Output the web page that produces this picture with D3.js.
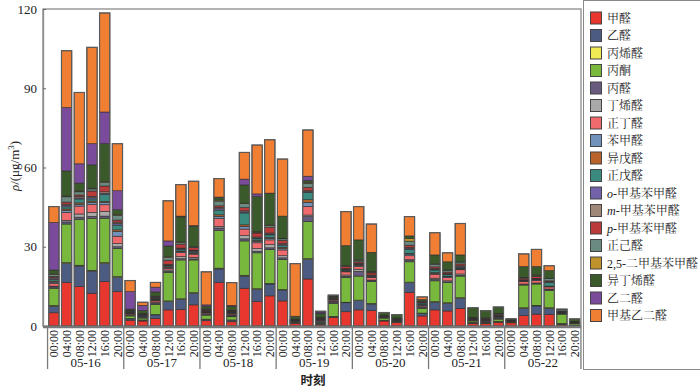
<!DOCTYPE html>
<html><head><meta charset="utf-8">
<script src="https://cdn.jsdelivr.net/npm/d3@7"></script>
<style>body{margin:0;background:#fff}svg{display:block}</style>
</head><body>
<svg id="c" width="700" height="390"></svg>
<script>
// ---- data ----
const dates = ["05-16","05-17","05-18","05-19","05-20","05-21","05-22"];
const times = ["00:00","04:00","08:00","12:00","16:00","20:00"];
const yTicks = [0, 30, 60, 90, 120];
const seriesNames = ["甲醛","乙醛","丙烯醛","丙酮","丙醛","丁烯醛","正丁醛","苯甲醛","异戊醛","正戊醛",
  "o-甲基苯甲醛","m-甲基苯甲醛","p-甲基苯甲醛","正己醛","2,5-二甲基苯甲醛","异丁烯醛","乙二醛","甲基乙二醛"];
const seriesColors = ["#e8372e","#4c5b82","#f2ea55","#78b83c","#675a7e","#a9a9a9","#ee6a6c","#7192bb","#b9632b","#3b8a7f",
  "#7361a9","#a08878","#bb3a3a","#6b8b82","#c0922c","#3b5a2c","#7b4b9b","#f07f34"];

const formaldehyde = [5,16.5,14.9,12.4,16.8,13, 2.2,1.9,2.9,6.1,6.3,8, 2,16.4,1.6,14.3,9.2,11.4, 9.5,1,17.8,0.6,3.3,5.4, 6.1,5.8,1.9,1.4,12.7,3.8, 6.1,5.7,6.7,1.0,1.0,1.4, 1.2,3.9,4.5,4.4,0.6,0.2];
const acetaldehyde = [2.5,7.2,7.8,8.4,6.9,5.4, 0.5,0.3,1.3,3.2,3.8,4.4, 0.5,5.2,0.6,4.6,4.7,4.5, 4.1,0.3,7.4,0.3,0.2,3.4, 3.5,2.5,0.2,0.2,3.7,1.0, 2.9,2.9,3.8,0.2,0.1,0.3, 0.1,2.8,3.1,2.3,0.2,0.1];
const acrolein = [0.3,0.3,0.3,0.3,0.3,0.3, 0.1,0.1,0.1,0.2,0.2,0.2, 0.1,0.3,0.1,0.3,0.2,0.2, 0.2,0.1,0.3,0.1,0.1,0.2, 0.2,0.2,0.1,0.1,0.2,0.1, 0.2,0.2,0.2,0.1,0.1,0.1, 0.1,0.2,0.2,0.2,0.1,0.1];
const acetone = [6.5,14.6,17.4,19.6,16.8,10.7, 1.0,0.7,3.9,10.8,14.7,12.4, 1.5,14.2,1.2,13.0,13.6,12.9, 11.4,0.2,14.0,0.4,5.0,9.4, 9.1,8.3,0.8,0.2,7.7,1.8, 7.9,7.6,8.2,0.6,0.3,0.8, 0.2,8.6,8.1,6.5,3.6,0.5];
const propanal = [0.5,0.8,0.8,0.8,0.8,0.6, 0.2,0.2,0.4,0.4,0.5,0.4, 0.3,1.0,0.3,0.8,0.6,0.6, 0.6,0.1,1.9,0.5,0.5,0.4, 1.8,0.3,0.1,0.1,0.5,0.4, 0.5,0.3,0.3,0.1,0.2,0.2, 0.1,0.2,0.2,0.3,0.1,0.1];
const crotonaldehyde = [0.3,0.6,1.2,1.5,1.8,1.2, 0.3,0.2,0.3,0.5,0.8,0.6, 0.3,0.6,0.3,1.2,1.0,1.2, 0.8,0.1,0.6,0.2,0.2,0.5, 0.8,0.3,0.1,0.1,0.3,0.2, 0.5,0.4,0.5,0.1,0.2,0.2, 0.1,0.2,0.2,0.3,0.1,0.1];
const butanal = [1,3,3,3,2.5,2.8, 0.3,0.2,0.6,0.6,1.5,1.2, 0.3,3.0,0.4,2.5,2.2,1.8, 2.2,0.1,3.3,0.2,0.5,1.2, 1.0,0.9,0.1,0.1,1.5,0.5, 1.5,1.2,1.6,0.2,0.2,0.3, 0.1,0.9,0.9,0.8,0.1,0.1];
const benzaldehyde = [0.5,0.8,0.7,0.8,0.8,1.8, 0.2,0.2,0.2,0.3,0.3,0.3, 0.2,0.8,0.2,1.0,0.5,0.5, 0.5,0.1,1.5,0.1,0.2,0.3, 0.4,0.2,0.1,0.1,0.6,0.2, 0.3,0.3,0.3,0.1,0.1,0.2, 0.05,0.1,0.2,0.2,0.1,0.05];
const isovaleraldehyde = [0.4,0.5,0.5,0.5,0.5,0.6, 0.1,0.1,0.2,0.3,0.3,0.3, 0.1,0.6,0.2,0.6,0.4,0.4, 0.5,0.1,1.0,0.1,0.1,0.2, 0.2,0.2,0.1,0.1,0.3,0.1, 0.3,0.2,0.2,0.1,0.1,0.1, 0.05,0.1,0.1,0.1,0.1,0.05];
const pentanal = [0.6,0.8,1.5,0.8,2.5,1.8, 0.2,0.2,0.3,0.4,0.5,0.5, 0.3,1.8,0.3,4.5,0.6,1.0, 0.6,0.1,2.8,0.1,0.2,0.3, 0.3,0.2,0.1,0.1,1.5,0.6, 1.0,0.6,0.4,0.1,0.1,0.2, 0.05,0.3,0.3,1.3,0.3,0.05];
const oTolualdehyde = [0.3,0.5,0.4,0.5,0.5,0.6, 0.1,0.1,0.2,0.2,0.3,0.2, 0.1,0.5,0.1,0.4,0.3,0.3, 0.4,0.1,0.3,0.1,0.1,0.2, 0.2,0.2,0.1,0.1,0.4,0.1, 0.3,0.2,0.3,0.1,0.1,0.1, 0.05,0.1,0.1,0.2,0.1,0.05];
const mTolualdehyde = [0.4,0.5,0.5,0.5,0.6,0.5, 0.1,0.1,0.2,0.3,0.3,0.2, 0.1,0.5,0.1,0.4,0.4,0.4, 0.4,0.1,0.3,0.1,0.1,0.2, 0.2,0.2,0.1,0.1,0.4,0.1, 0.3,0.2,0.3,0.1,0.1,0.1, 0.05,0.1,0.1,0.2,0.1,0.05];
const pTolualdehyde = [0.5,0.8,0.6,2.0,2.2,0.8, 0.2,0.2,0.3,1.6,1.5,1.0, 0.3,0.6,0.3,1.2,1.5,2.2, 1.2,0.1,1.3,0.2,0.3,0.8, 0.5,0.8,0.1,0.1,0.8,0.3, 0.6,0.6,0.7,0.2,0.2,0.3, 0.1,0.6,0.8,0.3,0.1,0.1];
const hexanal = [0.7,2,1.2,0.8,1.3,1.8, 0.2,0.2,0.3,1.0,0.6,0.2, 0.3,1.8,0.2,1.5,0.3,0.6, 0.6,0.1,1.5,0.2,0.2,0.2, 0.6,0.3,0.1,0.1,1.5,0.2, 1.0,0.7,0.7,0.1,0.2,0.3, 0.05,0.2,0.4,0.9,0.5,0.1];
const dimethylbenzaldehyde = [0.2,0.3,0.3,0.3,0.3,0.4, 0.1,0.1,0.1,0.3,0.2,0.1, 0.1,0.4,0.1,0.2,0.2,0.2, 0.2,0.1,0.3,0.1,0.1,0.1, 0.1,0.2,0.1,0.1,1.0,0.1, 0.1,0.1,0.1,0.1,0.1,0.1, 0.05,0.1,0.1,0.1,0.1,0.05];
const methacrolein = [1.5,9.5,3,8.8,14.4,1.7, 0.6,1.0,1.6,4.1,9.5,7.8, 1,0.9,1.5,6.9,13.3,12, 8.4,1,0.8,1.5,0.6,7.6, 7.6,7.3,1.0,1.3,1.0,0.5, 3.4,3.1,2.6,3.7,2.7,2.5, 0.4,4.1,3.2,2.9,0.2,1.0];
const glyoxal = [18,24,7.3,8,12,7.2, 6.6,2.0,1.8,1.9,0.3,0.2, 0.5,0.2,0.3,2.2,1,0.1, 0,0,1.6,0.5,0,0, 0,0,0,0,0,0, 0,0,0,0,0,0, 0,0,0,0,0,0];
const methylglyoxal = [6,21.5,27,36.5,37.5,17.8, 4.2,1.2,1.8,15.2,11.9,16.8, 12.5,7,8.6,10.1,18.5,20.2, 21.6,19.9,17.5,0.3,0,12.9, 12.6,10.7,0,0,7.3,1.0, 8.4,3.4,11.9,0,0,0, 0,4.8,6.5,1.8,0,0];

const seriesValues = [formaldehyde, acetaldehyde, acrolein, acetone, propanal, crotonaldehyde, butanal, benzaldehyde,
  isovaleraldehyde, pentanal, oTolualdehyde, mTolualdehyde, pTolualdehyde, hexanal, dimethylbenzaldehyde,
  methacrolein, glyoxal, methylglyoxal];

// ---- build table ----
const rows = [];
dates.forEach((d, di) => times.forEach((t, ti) => {
  const i = di * times.length + ti;
  const r = {id: d + " " + t, date: d, time: t};
  seriesNames.forEach((s, si) => r[s] = seriesValues[si][i]);
  rows.push(r);
}));

const FONT = "'Liberation Serif','Times New Roman','Noto Serif CJK SC','Noto Sans CJK SC',serif";
const svg = d3.select("#c");
const L = 43, R = 581, T = 9, B = 326;

const x = d3.scaleBand().domain(rows.map(r => r.id)).range([47.5, 581]).paddingInner(0.19).paddingOuter(0.1);
const y = d3.scaleLinear().domain([0, 120]).range([B, T]);
const color = d3.scaleOrdinal().domain(seriesNames).range(seriesColors);

const stack = d3.stack().keys(seriesNames)(rows);

// frame
svg.append("rect").attr("x", L).attr("y", T).attr("width", R - L).attr("height", B - T)
  .attr("fill", "none").attr("stroke", "#8a8a8a").attr("stroke-width", 1.3);

// bars
const layers = svg.append("g").selectAll("g").data(stack).join("g").attr("fill", d => color(d.key));
layers.selectAll("rect").data(d => d).join("rect")
  .attr("x", d => x(d.data.id))
  .attr("width", x.bandwidth())
  .attr("y", d => y(d[1]))
  .attr("height", d => Math.max(0, y(d[0]) - y(d[1])))
  .attr("stroke", "#2b2b2b").attr("stroke-width", 0.6);

// bar outlines
svg.append("g").selectAll("rect").data(rows).join("rect")
  .attr("x", d => x(d.id)).attr("width", x.bandwidth())
  .attr("y", d => y(d3.sum(seriesNames, s => d[s])))
  .attr("height", d => y(0) - y(d3.sum(seriesNames, s => d[s])))
  .attr("fill", "none").attr("stroke", "#5a5a5a").attr("stroke-width", 1.2);

// y axis
const yAxis = svg.append("g").attr("transform", `translate(${L},0)`)
  .call(d3.axisLeft(y).tickValues(yTicks).tickSizeInner(-3).tickSizeOuter(0).tickPadding(6));
yAxis.select(".domain").attr("stroke", "#8a8a8a").attr("stroke-width", 1.3);
yAxis.selectAll(".tick line").attr("stroke", "#666");
yAxis.selectAll("text").attr("font-family", FONT).attr("font-size", 13).attr("fill", "#222");

// x axis line
svg.append("line").attr("x1", L).attr("x2", R).attr("y1", B + 1).attr("y2", B + 1)
  .attr("stroke", "#777").attr("stroke-width", 2.5);

// x tick labels (rotated)
const xAxis = svg.append("g").attr("transform", `translate(0,${B + 3})`)
  .call(d3.axisBottom(x).tickSize(0).tickFormat(id => id.split(" ")[1]));
xAxis.select(".domain").remove();
xAxis.selectAll("text")
  .attr("transform", "rotate(-90)")
  .attr("text-anchor", "end")
  .attr("x", -1).attr("y", 0).attr("dy", "0.36em")
  .attr("font-family", FONT).attr("font-size", 12).attr("fill", "#222");

// day separators and labels
const step = x.step();
const sepX = d3.range(dates.length + 1).map(k => {
  if (k < dates.length) return x(rows[k * times.length].id) - step * x.paddingInner() / 2;
  return x(rows[rows.length - 1].id) + x.bandwidth() + step * x.paddingInner() / 2;
});
svg.append("g").selectAll("line").data(sepX).join("line")
  .attr("x1", d => d).attr("x2", d => d).attr("y1", B).attr("y2", 369)
  .attr("stroke", "#7a7a7a").attr("stroke-width", 1.3);
svg.append("g").selectAll("text").data(dates).join("text")
  .attr("x", (d, k) => (sepX[k] + sepX[k + 1]) / 2).attr("y", 367)
  .attr("text-anchor", "middle").attr("font-family", FONT).attr("font-size", 13).attr("fill", "#222")
  .text(d => d);

// axis titles
svg.append("text").attr("x", (L + R) / 2 + 1).attr("y", 385).attr("text-anchor", "middle")
  .attr("font-family", "'Noto Sans CJK SC',sans-serif").attr("font-weight", "bold").attr("font-size", 12.5).attr("fill", "#222")
  .text("时刻");
const yl = svg.append("text").attr("transform", "translate(19,166) rotate(-90)").attr("text-anchor", "middle")
  .attr("font-family", FONT).attr("font-size", 13).attr("fill", "#222");
yl.append("tspan").attr("font-style", "italic").text("ρ");
yl.append("tspan").text("/(μg/m");
yl.append("tspan").attr("font-size", 9).attr("dy", -5).text("3");
yl.append("tspan").attr("dy", 5).text(")");

// legend
svg.append("rect").attr("x", 583.5).attr("y", 0.5).attr("width", 130).attr("height", 369)
  .attr("fill", "none").attr("stroke", "#8a8a8a").attr("stroke-width", 1);
const lg = svg.append("g").selectAll("g").data(seriesNames).join("g")
  .attr("transform", (d, i) => `translate(590.5,${18 + 17.5 * i})`);
lg.append("rect").attr("x", 0).attr("y", -6).attr("width", 11).attr("height", 12)
  .attr("fill", d => color(d)).attr("stroke", "#444").attr("stroke-width", 1);
lg.append("text").attr("x", 16.5).attr("y", 4.5).attr("font-family", FONT).attr("font-size", 12).attr("fill", "#222")
  .each(function(d) {
    const t = d3.select(this);
    const m = d.match(/^([omp])(-.*)$/);
    if (m) {
      t.append("tspan").attr("font-style", "italic").text(m[1]);
      t.append("tspan").text(m[2]);
    } else t.text(d);
  });
</script>
</body></html>
